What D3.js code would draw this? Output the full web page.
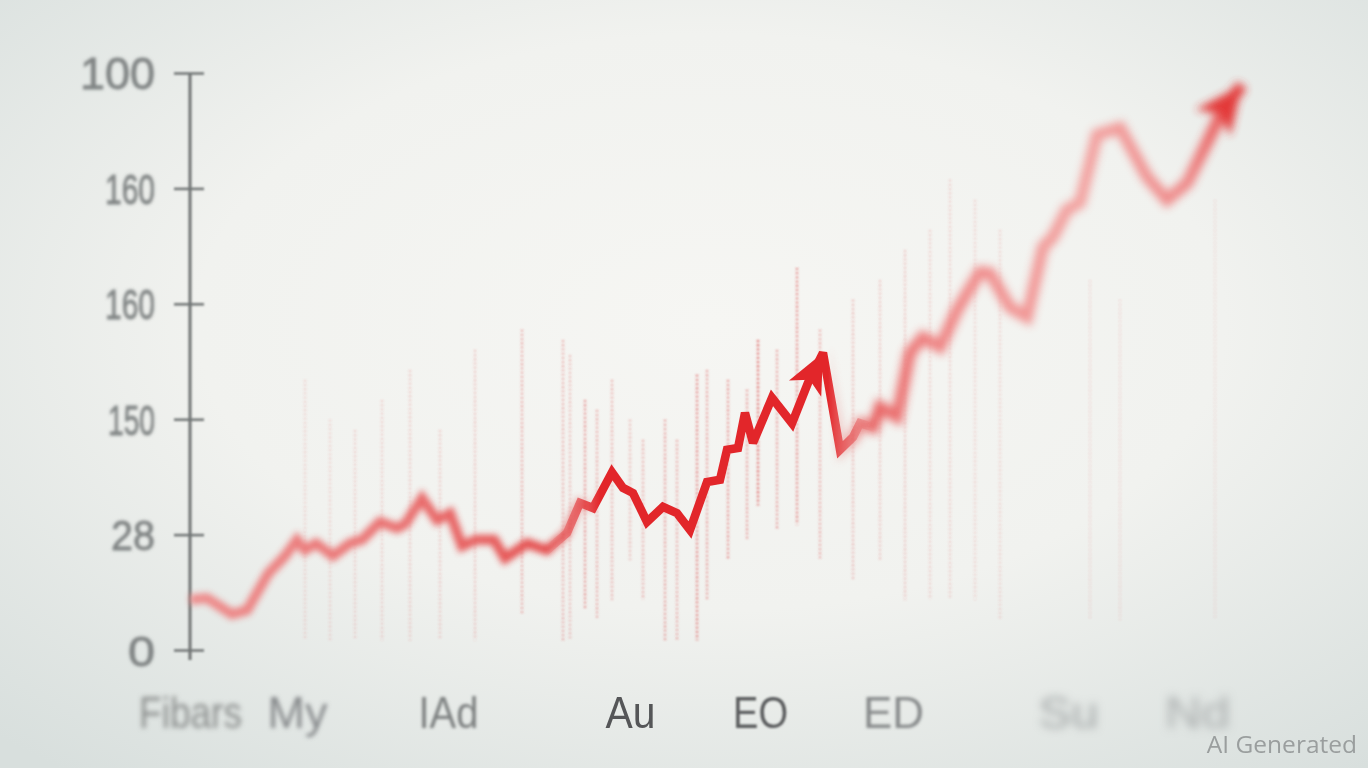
<!DOCTYPE html>
<html><head><meta charset="utf-8">
<script src="https://cdn.jsdelivr.net/npm/d3@7"></script>
<style>html,body{margin:0;padding:0;overflow:hidden;background:#eef0ee}svg{display:block}</style>
</head><body>
<svg id="c" width="1368" height="768"></svg>
<script>
// ---- data ----
const lineX = [0,1.7,4.2,5.7,7.8,9.5,10.7,11.5,12.6,14.3,16,17.2,19,20.7,21.5,23.2,24.7,26,27.2,28.6,30.4,31.5,33.7,35.7,37.7,39,40.3,42.2,43.3,44.3,45.7,47.3,48.7,50,51.7,53,53.7,54.8,55.5,56.3,58.2,60.2,61.8,63.3,65,66.3,67,68.3,69,70.7,72,73.3,75,76.7,79,80,82,83.7,85.3,86.3,87.7,89,90.7,93,95.7,97.7,99.7,103.3,105.2];
const lineY = [8.7,9.0,6.2,6.9,13.2,16.3,19.1,17.3,18.5,16.3,18.5,19.1,22.2,21.1,21.8,26.3,22.5,23.7,18.0,19.1,19.1,15.9,18.5,17.3,20.3,25.5,24.6,30.8,28.1,27.2,22.2,24.8,23.7,20.8,29.1,29.5,34.7,35.0,41.1,35.9,43.7,39.3,46.3,51.5,34.7,36.9,39.3,38.6,42.1,40.4,51.5,54.2,52.5,58.9,65.5,65.3,59.4,57.7,69.8,71.6,76.3,77.5,89.3,90.5,82.0,78.0,80.9,93.6,97.9];
const arrowIdx = [43, 68];

const dotX = [11.5,14,16.5,19.2,22,25,28.5,33.2,37.3,38,39.5,40.7,42.2,44,45.3,47.5,48.7,50.7,51.7,53.8,55.7,56.8,58.7,60.7,63,66.3,69,71.5,74,76,78.5,81,90,93,102.5];
const dotTop = [46.8,39.9,38.1,43.3,48.5,38.1,52.0,55.5,53.7,51.1,43.3,41.6,46.8,39.9,36.4,39.9,36.4,47.7,48.5,46.8,45.1,53.7,52.0,66.2,55.5,60.7,64.1,69.3,72.8,81.5,78.0,72.8,64.1,60.7,78.0];
const dotBottom = [1.7,1.7,1.7,1.7,1.7,1.7,1.7,6.1,1.7,1.7,6.9,5.2,8.7,15.6,8.7,1.7,1.7,1.7,8.7,15.6,19.1,25.1,20.8,21.7,15.6,12.1,15.6,8.7,8.7,8.7,8.7,5.2,5.2,5.2,5.2];
const dotAlpha = [0.18,0.18,0.2,0.2,0.22,0.22,0.25,0.4,0.35,0.3,0.5,0.4,0.35,0.3,0.35,0.45,0.4,0.6,0.45,0.5,0.45,0.7,0.45,0.55,0.4,0.3,0.25,0.25,0.2,0.2,0.18,0.18,0.12,0.12,0.1];

const yTickVals = [0,20,40,60,80,100];
const yLabels = ["0","28","150","160","160","100"];
const xTickVals = [0,10.7,25.8,44,57,70.3,87.8,100.7];
const xLabels = ["Fibars","My","IAd","Au","EO","ED","Su","Nd"];
const xLabelBlur = [2.4,2.0,1.6,0.6,0.8,1.8,4.5,5];
const xLabelColor = ["#8a8d8c","#85888a","#7d8080","#555758","#5a5c5d","#86898a","#a3a7a7","#a8acac"];

// ---- drawing ----
const svg = d3.select("#c");
const W = 1368, H = 768;
const x = d3.scaleLinear().domain([0,108]).range([190,1270]);
const y = d3.scaleLinear().domain([0,100]).range([650,73]);
const defs = svg.append("defs");

const bg = defs.append("radialGradient").attr("id","bg").attr("cx","0.52").attr("cy","0.42").attr("r","0.75");
bg.append("stop").attr("offset","0").attr("stop-color","#f6f6f3");
bg.append("stop").attr("offset","0.5").attr("stop-color","#f1f2ef");
bg.append("stop").attr("offset","1").attr("stop-color","#d8dfdd");
svg.append("rect").attr("width",W).attr("height",H).attr("fill","url(#bg)");

function blurF(id, s){ defs.append("filter").attr("id",id).attr("x","-50%").attr("y","-50%").attr("width","200%").attr("height","200%")
  .append("feGaussianBlur").attr("stdDeviation", s); }
[0.6,0.8,1,1.3,1.6,1.8,2,2.4,3,4.5,5,6].forEach(s=>blurF("b"+String(s).replace(".","_"), s));
const bid = s => "url(#b"+String(s).replace(".","_")+")";

function gradMask(id, stops){
  const g = defs.append("linearGradient").attr("id",id+"g").attr("gradientUnits","userSpaceOnUse")
    .attr("x1",0).attr("x2",W).attr("y1",0).attr("y2",0);
  stops.forEach(s=>g.append("stop").attr("offset",s[0]/W).attr("stop-color",s[1]));
  defs.append("mask").attr("id",id).attr("maskUnits","userSpaceOnUse").attr("x",0).attr("y",0).attr("width",W).attr("height",H)
    .append("rect").attr("width",W).attr("height",H).attr("fill","url(#"+id+"g)");
}
gradMask("mL", [[0,"#fff"],[545,"#fff"],[600,"#000"],[W,"#000"]]);
gradMask("mM", [[0,"#000"],[545,"#000"],[600,"#fff"],[828,"#fff"],[875,"#000"],[W,"#000"]]);
gradMask("mR", [[0,"#000"],[828,"#000"],[875,"#fff"],[W,"#fff"]]);

// faint dotted vertical lines
const dots = svg.append("g").attr("filter", bid(0.8));
dots.selectAll("line").data(dotX).join("line")
  .attr("x1",d=>x(d)).attr("x2",d=>x(d))
  .attr("y1",(d,i)=>y(dotTop[i])).attr("y2",(d,i)=>y(dotBottom[i]))
  .attr("stroke","#d94848").attr("stroke-width",2.4).attr("stroke-dasharray","1.8 2.4")
  .attr("stroke-opacity",(d,i)=>Math.min(1,dotAlpha[i]*1.2));

const FONT = "'Liberation Sans',Arial,sans-serif";
// y axis
const yLabelW = [27,44,47,50,50,75];
const yAxis = d3.axisLeft(y).tickValues(yTickVals).tickFormat((d,i)=>yLabels[i]).tickSize(16).tickPadding(20);
const gy = svg.append("g").attr("transform","translate(190,0)").attr("filter",bid(1)).call(yAxis);
gy.select(".domain").attr("stroke","#6e7272").attr("stroke-width",3).attr("d","M0,73V660");
gy.selectAll(".tick line").attr("x1",-16).attr("x2",14).attr("stroke","#707474").attr("stroke-width",2.5);
gy.selectAll(".tick text").attr("fill","#7f8383").attr("font-family",FONT)
  .attr("font-size",(d,i)=> i===5 ? 44 : 42).attr("x",-35).attr("dy","0.36em")
  .attr("stroke","#7f8383").attr("stroke-width",0.8)
  .attr("textLength",(d,i)=>yLabelW[i]).attr("lengthAdjust","spacingAndGlyphs")
  .attr("filter",bid(1.3));

// x axis
const xLabelW = [103,60,60,50,55,61,60,65];
const xAxis = d3.axisBottom(x).tickValues(xTickVals).tickFormat((d,i)=>xLabels[i]).tickSize(22).tickPadding(0);
const gx = svg.append("g").attr("transform","translate(0,650)").call(xAxis);
const axGrad = defs.append("linearGradient").attr("id","axg").attr("gradientUnits","userSpaceOnUse").attr("x1",178).attr("x2",1275).attr("y1",0).attr("y2",0);
[[0,"#6c7070",1],[0.75,"#6c7070",0.95],[0.88,"#8a8f8f",0.6],[1,"#9aa0a0",0.1]].forEach(s=>axGrad.append("stop").attr("offset",s[0]).attr("stop-color",s[1]).attr("stop-opacity",s[2]));
gx.select(".domain").attr("stroke","url(#axg)").attr("stroke-width",3.2).attr("d","M178,0H1275").attr("filter",bid(1));
gx.selectAll(".tick line").attr("y1",-20).attr("y2",22).attr("stroke-width",2.5)
  .attr("stroke",(d,i)=>i>=6?"#9ca1a1":"#5e6262")
  .attr("filter",(d,i)=>bid([1.3,1.3,1,0.6,0.6,1.3,3,3][i]));
gx.selectAll(".tick text").attr("y",78).attr("dy",0)
  .attr("font-family",FONT).attr("font-size",44)
  .attr("textLength",(d,i)=>xLabelW[i]).attr("lengthAdjust","spacingAndGlyphs")
  .attr("fill",(d,i)=>xLabelColor[i])
  .attr("filter",(d,i)=>bid(xLabelBlur[i]));

// line
const pts = lineX.map((d,i)=>[x(d), y(lineY[i])]);
const lineGen = d3.line();
function arrowHead(i, len, wid){
  const [tx,ty] = pts[i], [px,py] = pts[i-1];
  const a = Math.atan2(ty-py, tx-px);
  const bx = tx - len*Math.cos(a), by = ty - len*Math.sin(a);
  const nx = -Math.sin(a), ny = Math.cos(a);
  return `M${tx},${ty}L${bx+nx*wid/2},${by+ny*wid/2}L${bx+(tx-bx)*0.25},${by+(ty-by)*0.25}L${bx-nx*wid/2},${by-ny*wid/2}Z`;
}
function drawLayer(mask, blur, color, opacity, width, arrowColor, aLen, aWid){
  const g = svg.append("g").attr("mask","url(#"+mask+")");
  const inner = g.append("g").attr("filter", blur ? bid(blur) : null).attr("opacity",opacity);
  inner.append("path").attr("d",lineGen(pts)).attr("fill","none").attr("stroke",color)
    .attr("stroke-width",width).attr("stroke-linejoin","miter").attr("stroke-miterlimit",3);
  arrowIdx.forEach(i=>inner.append("path").attr("d",arrowHead(i,aLen,aWid)).attr("fill",arrowColor));
}
const lg = defs.append("linearGradient").attr("id","lgL").attr("gradientUnits","userSpaceOnUse").attr("x1",190).attr("x2",600).attr("y1",0).attr("y2",0);
[[0,"#ee8686"],[0.5,"#e96a6a"],[1,"#e23a3a"]].forEach(s=>lg.append("stop").attr("offset",s[0]).attr("stop-color",s[1]));
const rg = defs.append("linearGradient").attr("id","lgR").attr("gradientUnits","userSpaceOnUse").attr("x1",830).attr("x2",1250).attr("y1",0).attr("y2",0);
[[0,"#e34444"],[0.25,"#ee7a7a"],[0.6,"#f39c9a"],[0.85,"#ee8080"],[1,"#e42a2a"]].forEach(s=>rg.append("stop").attr("offset",s[0]).attr("stop-color",s[1]));

drawLayer("mL", 3, "url(#lgL)", 0.95, 10, "#e86a6a", 38, 34);
drawLayer("mM", 0.6, "#e2262b", 1, 8.5, "#e2262b", 40, 36);
drawLayer("mR", 4.5, "url(#lgR)", 0.92, 12, "#e22a2a", 48, 44);

// watermark
svg.append("text").attr("x",1357).attr("y",753).attr("text-anchor","end")
  .attr("font-family","'Open Sans','Noto Sans',sans-serif").attr("font-size",24.5)
  .attr("fill","#9a9e9e").text("AI Generated");
</script>
</body></html>
